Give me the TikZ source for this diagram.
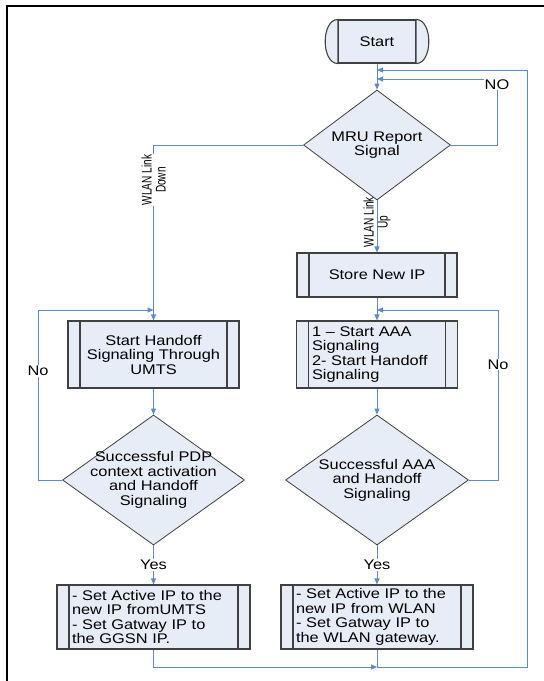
\documentclass[tikz,border=0pt]{standalone}
\usepackage{fontspec}
\setmainfont[FakeStretch=1.17]{Liberation Sans}
\newfontfamily\narrowfont[FakeStretch=0.72]{Liberation Sans}
\usetikzlibrary{arrows.meta,shapes.geometric}
\definecolor{flowblue}{RGB}{94,138,200}
\definecolor{boxfill}{RGB}{231,237,246}
\definecolor{boxline}{RGB}{64,64,64}

\begin{document}
\begin{tikzpicture}[
  x=1pt, y=-1pt,
  >={Triangle[length=6pt,width=5pt]},
  txt/.style={font=\fontsize{14}{14.5}\selectfont},
  terminal/.style={txt, draw=boxline, line width=1.1pt, fill=boxfill, minimum width=77pt, minimum height=43pt},
  process/.style={txt, draw=boxline, line width=1.1pt, fill=boxfill, inner xsep=15pt, inner ysep=2pt, align=center,
    path picture={\draw[boxline, line width=1.1pt]
      ([xshift=12pt]path picture bounding box.north west) -- ([xshift=12pt]path picture bounding box.south west)
      ([xshift=-12pt]path picture bounding box.north east) -- ([xshift=-12pt]path picture bounding box.south east);}},
  decision/.style={diamond, draw=boxline, line width=0.8pt, fill=boxfill, inner sep=0pt},
  flow/.style={->, draw=flowblue, line width=1pt},
  tag/.style={txt, fill=white, inner sep=1pt},
  vtag/.style={font=\narrowfont\fontsize{14}{14}\selectfont, rotate=90, align=center, inner sep=1pt}
]
\useasboundingbox (0,0) rectangle (544,681);
\draw[line width=2pt] (7,681) -- (7,6) -- (544,6);

% start and first decision
\node[terminal] (start) at (377,41.5) {Start};
\draw[boxline, line width=1.1pt, fill=boxfill] (start.north west) .. controls +(-17,0) and +(-17,0) .. (start.south west) -- cycle;
\draw[boxline, line width=1.1pt, fill=boxfill] (start.north east) .. controls +(17,0) and +(17,0) .. (start.south east) -- cycle;

\node[decision, minimum width=147pt, minimum height=110pt,
  label={[txt, align=center]center:MRU Report\\Signal}] (mru) at (377,145) {};

% WLAN branch
\node[process, minimum width=160pt, minimum height=44pt] (store) at (377,275) {Store New IP};
\node[process, text width=130pt, align=left, minimum width=161pt, minimum height=67pt] (aaa) at (377,354.5)
  {1 – Start AAA\\Signaling\\2- Start Handoff\\Signaling};
\node[decision, minimum width=183pt, minimum height=130pt,
  label={[txt, align=center]center:Successful AAA\\and Handoff\\Signaling}] (aaaok) at (377,480) {};
\node[process, text width=162pt, align=left, minimum width=192pt, minimum height=64pt] (setwlan) at (377,617)
  {- Set Active IP to the\\new IP from WLAN\\- Set Gatway IP to\\the WLAN gateway.};

% UMTS branch
\node[process, text width=141pt, minimum width=171pt, minimum height=67pt] (handoff) at (153.5,354.5)
  {Start Handoff\\Signaling Through\\UMTS};
\node[decision, minimum width=182pt, minimum height=130pt,
  label={[txt, align=center]center:Successful PDP\\context activation\\and Handoff\\Signaling}] (pdp) at (153.5,480) {};
\node[process, text width=163pt, align=left, minimum width=193pt, minimum height=64pt] (setumts) at (153.5,617)
  {- Set Active IP to the\\new IP fromUMTS\\- Set Gatway IP to\\the GGSN IP.};

\coordinate (noturn) at (497,79);
\coordinate (looptr) at (527,70);
\coordinate (loopbr) at (527,667);
\coordinate (noleft) at (38,310);
\coordinate (noright) at (498,310);

\draw[flow] (start) -- (mru);
\draw[flow] (mru.east) -| node[tag, pos=0.96]{NO} (noturn) -- (noturn -| start.south);
\draw[flow] (mru.west) -| node[vtag, fill=white, pos=0.6]{WLAN Link\\Down} (handoff.north);
\draw[flow] (mru) -- node[vtag, pos=0.42]{WLAN Link\\Up} (store);
\draw[flow] (store) -- (aaa);
\draw[flow] (aaa) -- (aaaok);
\draw[flow] (aaaok.east) -| node[tag, pos=0.84]{No} (noright) -- (noright -| aaa.north);
\draw[flow] (aaaok) -- node[tag]{Yes} (setwlan);
\draw[flow] (handoff) -- (pdp);
\draw[flow] (pdp.west) -| node[tag, pos=0.82]{No} (noleft) -- (noleft -| handoff.north);
\draw[flow] (pdp) -- node[tag]{Yes} (setumts);
\draw[flow] (setumts.south) |- (setwlan.south |- loopbr);
\draw[flow] (setwlan.south) |- (loopbr) -- (looptr) -- (looptr -| start.south);

\end{tikzpicture}
\end{document}
